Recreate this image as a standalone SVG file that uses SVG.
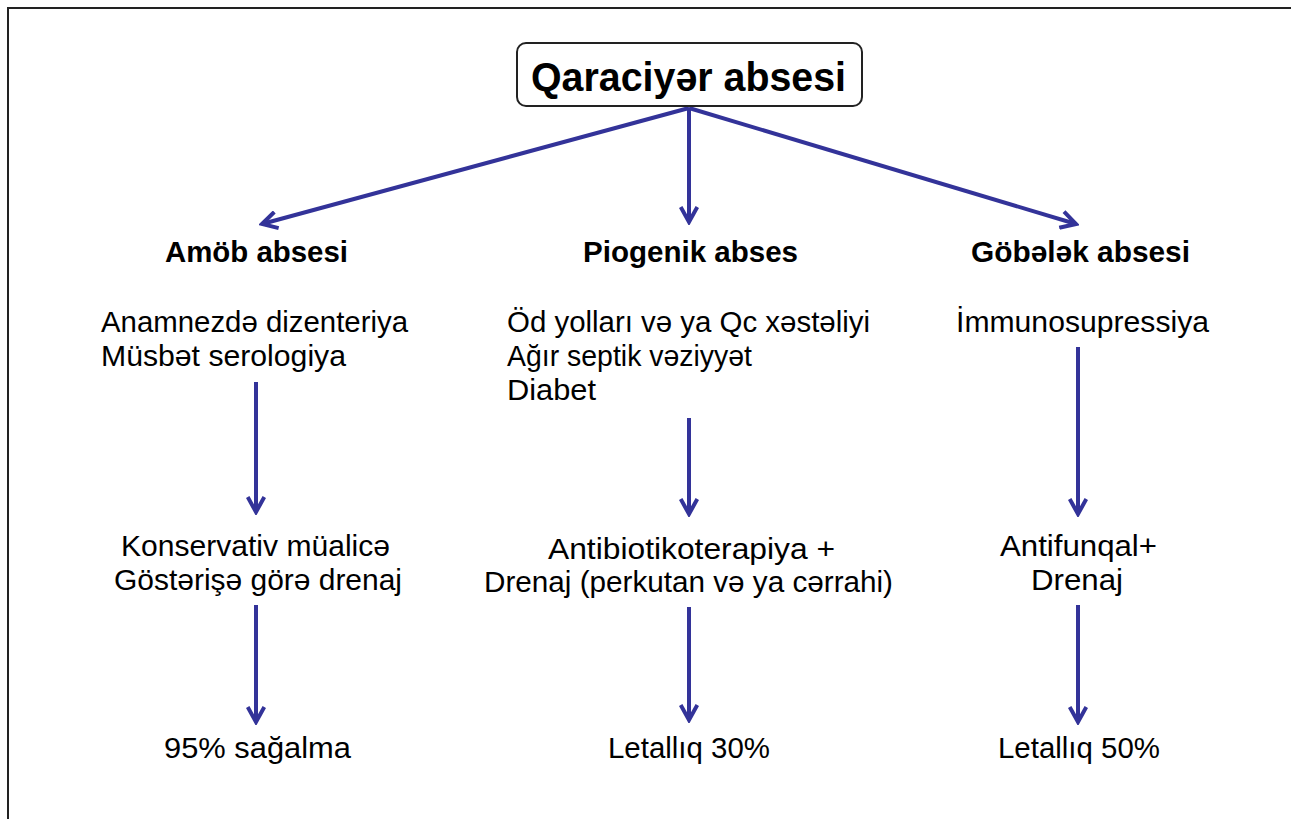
<svg xmlns="http://www.w3.org/2000/svg" width="1291" height="819" viewBox="0 0 1291 819">
<defs>
<style>
.t{font-family:"Liberation Sans",Arial,sans-serif;font-size:29px;fill:#000}
.b{font-weight:bold;font-size:29.5px}
.c{text-anchor:middle}
.ar{stroke:#333399;stroke-width:4;fill:none}
</style>
<marker id="ah" viewBox="0 0 12 12" refX="10" refY="6" markerWidth="5" markerHeight="5" orient="auto" markerUnits="strokeWidth">
<path d="M1,1 L10,6 L1,11" fill="none" stroke="#333399" stroke-width="2.4" stroke-linejoin="miter"/>
</marker>
</defs>
<rect x="0" y="0" width="1291" height="819" fill="#fff"/>
<path d="M8,819 V8 H1291" fill="none" stroke="#222" stroke-width="2"/>
<g id="connectors">
<line class="ar" x1="689" y1="108" x2="262" y2="224" marker-end="url(#ah)"/>
<line class="ar" x1="689" y1="108" x2="689" y2="222" marker-end="url(#ah)"/>
<line class="ar" x1="689" y1="108" x2="1076" y2="224" marker-end="url(#ah)"/>
<line class="ar" x1="256" y1="382" x2="256" y2="512" marker-end="url(#ah)"/>
<line class="ar" x1="689" y1="418" x2="689" y2="514" marker-end="url(#ah)"/>
<line class="ar" x1="1078" y1="347" x2="1078" y2="514" marker-end="url(#ah)"/>
<line class="ar" x1="256" y1="605" x2="256" y2="722" marker-end="url(#ah)"/>
<line class="ar" x1="689" y1="607" x2="689" y2="720" marker-end="url(#ah)"/>
<line class="ar" x1="1078" y1="605" x2="1078" y2="722" marker-end="url(#ah)"/>
</g>
<g id="root">
<rect x="517" y="43" width="345" height="63" rx="9" fill="#fff" stroke="#222" stroke-width="2"/>
<text class="t b" x="531" y="91" style="font-size:40px" textLength="315" lengthAdjust="spacingAndGlyphs">Qaraciyər absesi</text>
</g>
<g id="amob">
<text class="t b" x="165" y="262" textLength="183" lengthAdjust="spacingAndGlyphs">Amöb absesi</text>
<text class="t" x="101" y="332" textLength="307" lengthAdjust="spacingAndGlyphs">Anamnezdə dizenteriya</text>
<text class="t" x="101" y="366" textLength="245" lengthAdjust="spacingAndGlyphs">Müsbət serologiya</text>
</g>
<g id="piogenik">
<text class="t b" x="583" y="262" textLength="215" lengthAdjust="spacingAndGlyphs">Piogenik abses</text>
<text class="t" x="507" y="332" textLength="363" lengthAdjust="spacingAndGlyphs">Öd yolları və ya Qc xəstəliyi</text>
<text class="t" x="507" y="366" textLength="245" lengthAdjust="spacingAndGlyphs">Ağır septik vəziyyət</text>
<text class="t" x="507" y="400" textLength="89" lengthAdjust="spacingAndGlyphs">Diabet</text>
</g>
<g id="gobelek">
<text class="t b" x="971" y="262" textLength="219" lengthAdjust="spacingAndGlyphs">Göbələk absesi</text>
<text class="t" x="956" y="332" textLength="253" lengthAdjust="spacingAndGlyphs">İmmunosupressiya</text>
</g>
<g id="amob-treat">
<text class="t" x="121" y="556" textLength="269" lengthAdjust="spacingAndGlyphs">Konservativ müalicə</text>
<text class="t" x="114" y="590" textLength="288" lengthAdjust="spacingAndGlyphs">Göstərişə görə drenaj</text>
</g>
<g id="piogenik-treat">
<text class="t" x="548" y="559" textLength="287" lengthAdjust="spacingAndGlyphs">Antibiotikoterapiya +</text>
<text class="t" x="484" y="592" textLength="409" lengthAdjust="spacingAndGlyphs">Drenaj (perkutan və ya cərrahi)</text>
</g>
<g id="gobelek-treat">
<text class="t" x="1000" y="556" textLength="157" lengthAdjust="spacingAndGlyphs">Antifunqal+</text>
<text class="t" x="1031" y="590" textLength="92" lengthAdjust="spacingAndGlyphs">Drenaj</text>
</g>
<g id="amob-out"><text class="t" x="164" y="758" textLength="187" lengthAdjust="spacingAndGlyphs">95% sağalma</text></g>
<g id="piogenik-out"><text class="t" x="608" y="758" textLength="162" lengthAdjust="spacingAndGlyphs">Letallıq 30%</text></g>
<g id="gobelek-out"><text class="t" x="998" y="758" textLength="162" lengthAdjust="spacingAndGlyphs">Letallıq 50%</text></g>
</svg>
